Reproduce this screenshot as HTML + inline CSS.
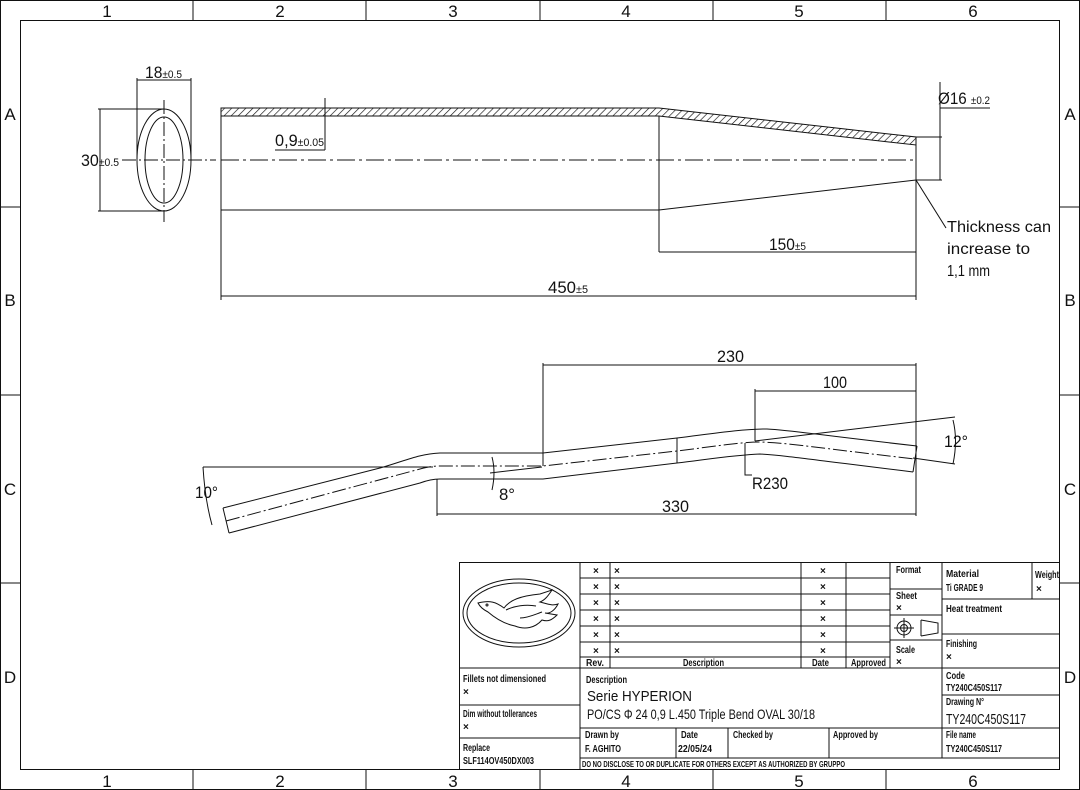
<!DOCTYPE html>
<html><head><meta charset="utf-8"><style>
html,body{margin:0;padding:0;background:#fff}
svg{display:block}
text{font-family:"Liberation Sans",sans-serif;fill:#111}
.t{font-size:10px;font-weight:bold}
.d{font-size:17px}
</style></head><body>
<svg width="1080" height="790" viewBox="0 0 1080 790" xmlns="http://www.w3.org/2000/svg">
<defs>
<pattern id="h" patternUnits="userSpaceOnUse" width="5" height="5" patternTransform="rotate(45)">
<line x1="0" y1="0" x2="0" y2="5" stroke="#111" stroke-width="1.3"/>
</pattern>
</defs>
<g stroke="#111" fill="none" stroke-width="1">
<rect x="0.5" y="0.5" width="1079" height="789"/>
<rect x="20.5" y="20.5" width="1039" height="749"/>
<path d="M193 0V20M366 0V20M540 0V20M713 0V20M886 0V20M193 770V790M366 770V790M540 770V790M713 770V790M886 770V790M0 207H20M0 395H20M0 583H20M1060 207H1080M1060 395H1080M1060 583H1080"/>
</g>
<g text-anchor="middle">
<text x="107" y="17" class="d">1</text><text x="280" y="17" class="d">2</text><text x="453" y="17" class="d">3</text><text x="626" y="17" class="d">4</text><text x="799" y="17" class="d">5</text><text x="973" y="17" class="d">6</text>
<text x="107" y="787" class="d">1</text><text x="280" y="787" class="d">2</text><text x="453" y="787" class="d">3</text><text x="626" y="787" class="d">4</text><text x="799" y="787" class="d">5</text><text x="973" y="787" class="d">6</text>
<text x="10" y="120" class="d">A</text><text x="10" y="306" class="d">B</text><text x="10" y="495" class="d">C</text><text x="10" y="683" class="d">D</text>
<text x="1070" y="120" class="d">A</text><text x="1070" y="306" class="d">B</text><text x="1070" y="495" class="d">C</text><text x="1070" y="683" class="d">D</text>
</g>

<g stroke="#111" fill="none" stroke-width="1">
<ellipse cx="164" cy="160" rx="27" ry="51"/>
<ellipse cx="164" cy="160" rx="19" ry="43"/>
<path d="M122 160H216" stroke-dasharray="14 3 2 3"/>
<path d="M164 100V222" stroke-dasharray="14 3 2 3"/>
<path d="M137 160V78M191 160V78M137 80H191"/>
<path d="M98 109H164M98 211H164M100 109V211"/>
<polygon points="221,108 659,108 916,137 916,145 659,116 221,116" fill="url(#h)"/>
<path d="M221 108V300M221 210H659L916 180M659 116V252M916 137V300"/>
<path d="M221 160H916" stroke-dasharray="18 4 3 4"/>
<path d="M325 98V150M275 150H325"/>
<path d="M659 252H916M221 296H916"/>
<path d="M916 137H942M916 180H942M940 82V180M940 108H990"/>
<path d="M916 180L946 228"/>
</g>
<text x="145" y="78" class="d" textLength="37" lengthAdjust="spacingAndGlyphs">18<tspan font-size="11">±0.5</tspan></text>
<text x="81" y="166" class="d" textLength="38" lengthAdjust="spacingAndGlyphs">30<tspan font-size="11">±0.5</tspan></text>
<text x="275" y="146" class="d" textLength="49" lengthAdjust="spacingAndGlyphs">0,9<tspan font-size="11">±0.05</tspan></text>
<text x="769" y="250" class="d" textLength="37" lengthAdjust="spacingAndGlyphs">150<tspan font-size="11">±5</tspan></text>
<text x="548" y="293" class="d" textLength="40" lengthAdjust="spacingAndGlyphs">450<tspan font-size="11">±5</tspan></text>
<text x="938" y="104" class="d" textLength="52" lengthAdjust="spacingAndGlyphs">Ø16 <tspan font-size="11">±0.2</tspan></text>
<text x="947" y="232" style="font-size:16px" textLength="104" lengthAdjust="spacingAndGlyphs">Thickness can</text>
<text x="947" y="254" style="font-size:16px" textLength="83" lengthAdjust="spacingAndGlyphs">increase to</text>
<text x="947" y="276" style="font-size:16px" textLength="43" lengthAdjust="spacingAndGlyphs">1,1 mm</text>

<g stroke="#111" fill="none" stroke-width="1">
<path d="M223 508L380 468C405 461 418 454 440 453L543 453L677 438C710 434 740 429 767 429C790 430 810 434 917 446"/>
<path d="M229 533L420 483C428 480 433 479 440 479L543 479L677 463C710 459 735 455 760 454C780 455 800 458 913 472"/>
<path d="M223 508L229 533M917 446L913 472M677 438V463"/>
<path d="M226 521L420 469C428 467 433 466 440 466L543 466L677 451C710 447 740 442 760 442C790 443 810 447 915 459" stroke-dasharray="14 3 2 3"/>
<path d="M543 466V363M916 363V516M543 365H916M755 441V389M755 391H916M437 479V516M437 514H916"/>
<path d="M755 441L955 417M913 458L955 464M953 420Q958 440 953 464"/>
<path d="M745 443V475H752"/>
<path d="M203 467H433M203 467Q205 500 212 525"/>
<path d="M490 473L542 467M492 457Q496 472 492 490"/>
</g>
<text x="717" y="362" class="d" textLength="27" lengthAdjust="spacingAndGlyphs">230</text>
<text x="823" y="388" class="d" textLength="24" lengthAdjust="spacingAndGlyphs">100</text>
<text x="662" y="512" class="d" textLength="27" lengthAdjust="spacingAndGlyphs">330</text>
<text x="752" y="489" class="d" textLength="36" lengthAdjust="spacingAndGlyphs">R230</text>
<text x="944" y="447" class="d" textLength="24" lengthAdjust="spacingAndGlyphs">12°</text>
<text x="195" y="498" class="d" textLength="23" lengthAdjust="spacingAndGlyphs">10°</text>
<text x="499" y="500" class="d" textLength="16" lengthAdjust="spacingAndGlyphs">8°</text>

<g stroke="#111" fill="none" stroke-width="1">
<rect x="459.5" y="562.5" width="600" height="207"/>
<path d="M580 562V770M459 668H1060M459 705H580M459 738H580"/>
<path d="M580 578H890M580 594H890M580 610H890M580 626H890M580 642H890M580 657H890"/>
<path d="M610 562V668M801 562V668M846 562V668M890 562V668M942 562V758M1032 562V599"/>
<path d="M890 589H942M890 615H942M890 640H942M942 599H1060M942 634H1060M942 695H1060M942 728H1060"/>
<path d="M580 728H1060M580 758H1060M676 728V758M728 728V758M829 728V758"/>
<ellipse cx="519" cy="613" rx="56" ry="34"/>
<ellipse cx="519" cy="613" rx="52" ry="30"/>
<path d="M478 603C490 600 496 602 504 608C510 600 520 596 540 594L552 590C548 596 545 600 540 602C548 604 552 606 558 604C555 610 550 614 545 613L557 615C552 620 548 622 542 620C535 628 525 630 515 626C505 624 495 618 488 612C484 610 480 607 478 603Z"/>
<path d="M506 610C514 606 526 604 536 606M520 618C528 618 536 614 542 612"/>
<circle cx="487" cy="605" r="1"/>
<circle cx="904" cy="628" r="7"/><circle cx="904" cy="628" r="3.5"/>
<path d="M894 628H914M904 618V638M921 620V636M921 620L938 623V633L921 636"/>
</g>
<g>
<text x="593" y="574" class="t">×</text><text x="614" y="574" class="t">×</text><text x="820" y="574" class="t">×</text>
<text x="593" y="590" class="t">×</text><text x="614" y="590" class="t">×</text><text x="820" y="590" class="t">×</text>
<text x="593" y="606" class="t">×</text><text x="614" y="606" class="t">×</text><text x="820" y="606" class="t">×</text>
<text x="593" y="622" class="t">×</text><text x="614" y="622" class="t">×</text><text x="820" y="622" class="t">×</text>
<text x="593" y="638" class="t">×</text><text x="614" y="638" class="t">×</text><text x="820" y="638" class="t">×</text>
<text x="593" y="654" class="t">×</text><text x="614" y="654" class="t">×</text><text x="820" y="654" class="t">×</text>
<text x="586" y="666" class="t" textLength="18" lengthAdjust="spacingAndGlyphs">Rev.</text>
<text x="683" y="666" class="t" textLength="41" lengthAdjust="spacingAndGlyphs">Description</text>
<text x="812" y="666" class="t" textLength="17" lengthAdjust="spacingAndGlyphs">Date</text>
<text x="851" y="666" class="t" textLength="35" lengthAdjust="spacingAndGlyphs">Approved</text>
<text x="896" y="573" class="t" textLength="25" lengthAdjust="spacingAndGlyphs">Format</text>
<text x="896" y="599" class="t" textLength="21" lengthAdjust="spacingAndGlyphs">Sheet</text><text x="896" y="611" class="t">×</text>
<text x="896" y="653" class="t" textLength="19" lengthAdjust="spacingAndGlyphs">Scale</text><text x="896" y="665" class="t">×</text>
<text x="946" y="577" class="t" textLength="33" lengthAdjust="spacingAndGlyphs">Material</text>
<text x="946" y="591" class="t" textLength="37" lengthAdjust="spacingAndGlyphs">Ti GRADE 9</text>
<text x="1035" y="578" class="t" textLength="24" lengthAdjust="spacingAndGlyphs">Weight</text><text x="1036" y="592" class="t">×</text>
<text x="946" y="612" class="t" textLength="56" lengthAdjust="spacingAndGlyphs">Heat treatment</text>
<text x="946" y="647" class="t" textLength="31" lengthAdjust="spacingAndGlyphs">Finishing</text><text x="946" y="660" class="t">×</text>
<text x="946" y="679" class="t" textLength="19" lengthAdjust="spacingAndGlyphs">Code</text>
<text x="946" y="691" class="t" textLength="56" lengthAdjust="spacingAndGlyphs">TY240C450S117</text>
<text x="946" y="705" class="t" textLength="38" lengthAdjust="spacingAndGlyphs">Drawing N°</text>
<text x="946" y="724" style="font-size:15px" textLength="80" lengthAdjust="spacingAndGlyphs">TY240C450S117</text>
<text x="946" y="738" class="t" textLength="30" lengthAdjust="spacingAndGlyphs">File name</text>
<text x="946" y="752" class="t" textLength="56" lengthAdjust="spacingAndGlyphs">TY240C450S117</text>
<text x="463" y="682" class="t" textLength="83" lengthAdjust="spacingAndGlyphs">Fillets not dimensioned</text><text x="463" y="695" class="t">×</text>
<text x="463" y="717" class="t" textLength="74" lengthAdjust="spacingAndGlyphs">Dim without tollerances</text><text x="463" y="730" class="t">×</text>
<text x="463" y="751" class="t" textLength="27" lengthAdjust="spacingAndGlyphs">Replace</text>
<text x="463" y="764" class="t" textLength="71" lengthAdjust="spacingAndGlyphs">SLF114OV450DX003</text>
<text x="586" y="683" class="t" textLength="41" lengthAdjust="spacingAndGlyphs">Description</text>
<text x="587" y="701" style="font-size:15px" textLength="105" lengthAdjust="spacingAndGlyphs">Serie HYPERION</text>
<text x="587" y="719" style="font-size:14px" textLength="228" lengthAdjust="spacingAndGlyphs">PO/CS Φ 24 0,9 L.450 Triple Bend OVAL 30/18</text>
<text x="585" y="738" class="t" textLength="34" lengthAdjust="spacingAndGlyphs">Drawn by</text>
<text x="585" y="752" class="t" textLength="36" lengthAdjust="spacingAndGlyphs">F. AGHITO</text>
<text x="681" y="738" class="t" textLength="17" lengthAdjust="spacingAndGlyphs">Date</text>
<text x="678" y="752" class="t" textLength="34" lengthAdjust="spacingAndGlyphs">22/05/24</text>
<text x="733" y="738" class="t" textLength="40" lengthAdjust="spacingAndGlyphs">Checked by</text>
<text x="833" y="738" class="t" textLength="45" lengthAdjust="spacingAndGlyphs">Approved by</text>
<text x="582" y="767" style="font-size:8.5px;font-weight:bold" textLength="263" lengthAdjust="spacingAndGlyphs">DO NO DISCLOSE TO OR DUPLICATE FOR OTHERS EXCEPT AS AUTHORIZED BY GRUPPO</text>
</g>
</svg>
</body></html>
